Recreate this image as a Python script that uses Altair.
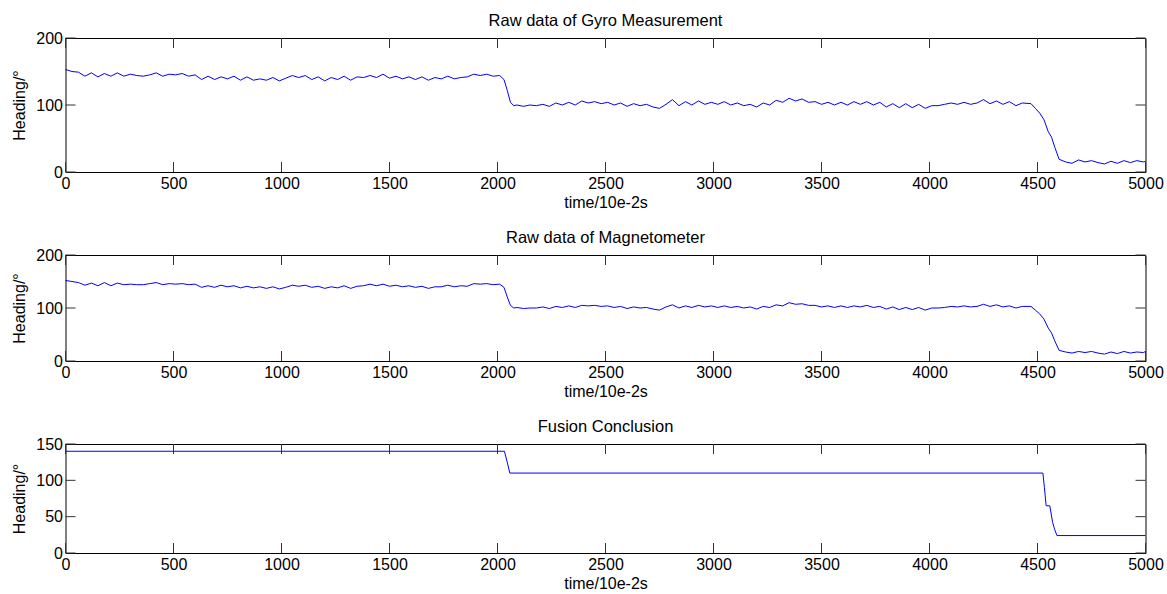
import altair as alt
import pandas as pd

# ---------------- data ----------------
x_ticks = [0, 500, 1000, 1500, 2000, 2500, 3000, 3500, 4000, 4500, 5000]
y_ticks_raw = [0, 100, 200]
y_ticks_fus = [0, 50, 100, 150]

# Gyro measurement (heading, degrees)
gyro_t_a = list(range(0, 2000, 30))
gyro_v_a = [153, 150, 149, 143, 148, 142, 147, 143, 148, 143, 146, 144, 143, 145, 148, 143, 146,
            145, 147, 143, 145, 138, 143, 138, 142, 139, 143, 137, 142, 137, 139, 137, 141, 136,
            140, 144, 141, 144, 138, 142, 136, 141, 138, 143, 137, 142, 141, 144, 141, 146, 140,
            143, 139, 142, 138, 142, 137, 141, 139, 143, 139, 141, 142, 146, 144, 146, 143]
gyro_t_b = [2010, 2030, 2045, 2060, 2075]
gyro_v_b = [144, 138, 122, 104, 99]
gyro_t_c = list(range(2090, 4451, 30))
gyro_v_c = [100, 98, 100, 99, 101, 98, 103, 100, 104, 100, 106, 103, 105, 102, 104, 100, 103,
            98, 102, 99, 101, 97, 95, 101, 108, 99, 105, 100, 106, 101, 104, 101, 105, 100, 103,
            99, 101, 97, 103, 100, 107, 104, 110, 106, 109, 104, 105, 101, 104, 100, 104, 100,
            105, 101, 105, 100, 104, 97, 102, 96, 102, 96, 101, 95, 99, 99, 101, 103, 101, 104,
            101, 103, 108, 102, 106, 101, 105, 99, 103]
gyro_t_d = [4470, 4490, 4510, 4530, 4550, 4565, 4580, 4600, 4630, 4660, 4690, 4720, 4750, 4780,
            4810, 4840, 4870, 4900, 4930, 4960, 4990, 5000]
gyro_v_d = [102, 95, 88, 78, 60, 52, 37, 19, 15, 13, 18, 15, 17, 14, 12, 16, 13, 17, 14, 17, 15, 16]

# Magnetometer (heading, degrees)
mag_t_a = list(range(0, 2000, 30))
mag_v_a = [152, 150, 148, 143, 147, 142, 148, 142, 147, 144, 145, 144, 144, 146, 148, 144, 146,
           145, 146, 144, 145, 139, 142, 139, 143, 140, 142, 138, 141, 138, 140, 137, 140, 136,
           139, 143, 141, 143, 139, 141, 137, 140, 138, 142, 137, 141, 142, 145, 142, 145, 141,
           143, 140, 142, 139, 141, 137, 140, 140, 143, 140, 142, 141, 146, 145, 146, 144]
mag_t_b = [2010, 2030, 2045, 2060, 2075]
mag_v_b = [145, 139, 121, 105, 100]
mag_t_c = list(range(2090, 4451, 30))
mag_v_c = [101, 99, 100, 100, 102, 99, 103, 101, 104, 101, 105, 104, 105, 103, 104, 101, 103,
           99, 102, 100, 101, 98, 96, 102, 106, 100, 104, 101, 105, 102, 104, 101, 104, 101, 103,
           100, 102, 98, 103, 101, 106, 104, 110, 107, 108, 105, 105, 102, 104, 101, 104, 101,
           104, 102, 105, 101, 103, 98, 102, 97, 101, 97, 101, 96, 100, 100, 101, 103, 102, 104,
           102, 103, 107, 103, 106, 102, 104, 100, 103]
mag_t_d = [4470, 4490, 4510, 4530, 4550, 4565, 4580, 4600, 4630, 4660, 4690, 4720, 4750, 4780,
           4810, 4840, 4870, 4900, 4930, 4960, 4990, 5000]
mag_v_d = [103, 96, 89, 79, 62, 53, 38, 20, 17, 15, 18, 16, 18, 15, 13, 17, 14, 18, 15, 17, 16, 18]

# Fusion conclusion
fus_t = [0, 2032, 2045, 2057, 4525, 4532, 4540, 4557, 4570, 4580, 4590, 5000]
fus_v = [140, 140, 125, 110, 110, 90, 65, 65, 42, 32, 24, 24]

# ---------------- build ----------------
FONT = "Liberation Sans"
W = 1080
TICK = 10


def frame(t, v):
    return pd.DataFrame({"t": t, "h": v})


def panel(df, title, ydom, yticks, h):
    x_enc = alt.X("t:Q", scale=alt.Scale(domain=[0, 5000], nice=False, zero=False),
                  axis=alt.Axis(values=x_ticks, title="time/10e-2s", tickSize=0, domain=False,
                                grid=False, labelFlush=False, labelOverlap=False,
                                labelPadding=3, titlePadding=3, format="d"))
    y_enc = alt.Y("h:Q", scale=alt.Scale(domain=ydom, nice=False, zero=False),
                  axis=alt.Axis(values=yticks, title="Heading/°", tickSize=0, domain=False,
                                grid=False, labelPadding=3, titlePadding=8, format="d"))
    line = alt.Chart(df).mark_line(color="#0000ff", strokeWidth=1).encode(x=x_enc, y=y_enc)

    xt = pd.DataFrame({"t": x_ticks})
    yt = pd.DataFrame({"h": yticks})
    bot = alt.Chart(xt).mark_rule(color="#333333", strokeWidth=1).encode(
        x=x_enc, y=alt.value(h), y2=alt.value(h - TICK))
    top = alt.Chart(xt).mark_rule(color="#333333", strokeWidth=1).encode(
        x=x_enc, y=alt.value(0), y2=alt.value(TICK))
    left = alt.Chart(yt).mark_rule(color="#333333", strokeWidth=1).encode(
        y=y_enc, x=alt.value(0), x2=alt.value(TICK))
    right = alt.Chart(yt).mark_rule(color="#333333", strokeWidth=1).encode(
        y=y_enc, x=alt.value(W), x2=alt.value(W - TICK))

    return alt.layer(line, bot, top, left, right).properties(
        width=W, height=h,
        title=alt.TitleParams(title, fontSize=16.5, fontWeight="normal", font=FONT,
                              anchor="middle", offset=0.5, color="black"))


gyro = frame(gyro_t_a + gyro_t_b + gyro_t_c + gyro_t_d,
             gyro_v_a + gyro_v_b + gyro_v_c + gyro_v_d)
mag = frame(mag_t_a + mag_t_b + mag_t_c + mag_t_d,
            mag_v_a + mag_v_b + mag_v_c + mag_v_d)
fus = frame(fus_t, fus_v)

chart = alt.vconcat(
    panel(gyro, "Raw data of Gyro Measurement", [0, 200], y_ticks_raw, 134),
    panel(mag, "Raw data of Magnetometer", [0, 200], y_ticks_raw, 106),
    panel(fus, "Fusion Conclusion", [0, 150], y_ticks_fus, 109),
    spacing=83, bounds="flush",
).properties(
    padding={"left": 10.5, "top": 12, "right": 2, "bottom": 0},
    background="white",
).configure_view(
    stroke="black", strokeWidth=1
).configure_axis(
    labelFont=FONT, titleFont=FONT, labelFontSize=16, titleFontSize=16,
    labelColor="black", titleColor="black", titleFontWeight="normal"
)

chart.save("out.html", embed_options={"renderer": "svg", "actions": False})
